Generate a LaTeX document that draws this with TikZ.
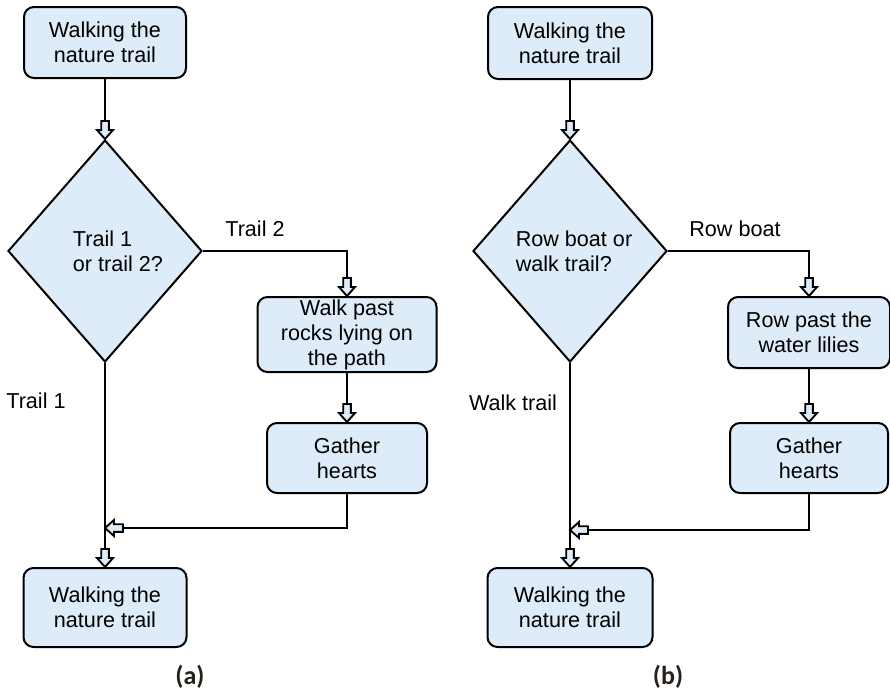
\documentclass[tikz,border=0pt]{standalone}
\usepackage{fontspec}
\setmainfont{Liberation Sans}
\newfontfamily\capfont{Carlito}
\usetikzlibrary{shapes.geometric}
\usetikzlibrary{positioning}
\definecolor{boxfill}{RGB}{222,235,249}
\definecolor{capcol}{RGB}{38,32,26}
% open block arrow with a short shaft
\pgfdeclarearrow{
  name=hollow,
  setup code={
    \pgfarrowssettipend{0pt}
    \pgfarrowssetlineend{-8.5pt}
    \pgfarrowssetvisualbackend{-9pt}
    \pgfarrowssetbackend{-9pt}
    \pgfarrowshullpoint{0pt}{0pt}
    \pgfarrowshullpoint{-9pt}{4pt}
    \pgfarrowshullpoint{-9pt}{-4pt}
  },
  drawing code={
    \pgfsetdash{}{0pt}
    \pgfsetlinewidth{0.95pt}
    \pgfpathmoveto{\pgfqpoint{0pt}{0pt}}
    \pgfpathlineto{\pgfqpoint{-4.5pt}{4pt}}
    \pgfpathlineto{\pgfqpoint{-4.5pt}{1.9pt}}
    \pgfpathlineto{\pgfqpoint{-9pt}{1.9pt}}
    \pgfpathlineto{\pgfqpoint{-9pt}{-1.9pt}}
    \pgfpathlineto{\pgfqpoint{-4.5pt}{-1.9pt}}
    \pgfpathlineto{\pgfqpoint{-4.5pt}{-4pt}}
    \pgfpathclose
    \pgfsetfillcolor{boxfill}
    \pgfusepathqfillstroke
  }
}
\tikzset{
  stepbox/.style={draw, line width=1pt, fill=boxfill, rounded corners=5pt,
    align=center, inner sep=0pt},
  choice/.style={draw, diamond, line width=1pt, fill=boxfill, inner sep=0pt,
    minimum width=97pt, minimum height=111pt},
  flow/.style={line width=1pt, ->, >=hollow},
  caption/.style={font=\capfont\bfseries\fontsize{13}{15}\selectfont, text=capcol},
}

\begin{document}
\begin{tikzpicture}[x=0.5pt, y=-0.5pt, font=\fontsize{10.8}{12.5}\selectfont]
        \useasboundingbox (0,0) rectangle (890,692);
        %Diagram (a)
        \node [stepbox, minimum width=81pt, minimum height=35.5pt] (t1) at (105,42.5) {Walking the\\nature trail};
        \node [choice, label={[name=q1t, align=left, xshift=6.5pt]center:Trail 1\\ or trail 2?}] (q1) at (105,251) {};
        \node [stepbox, minimum width=89.5pt, minimum height=37.5pt] (p1) at (347,334.5) {Walk past\\rocks lying on\\the path};
        \node [stepbox, minimum width=80pt, minimum height=35pt] (g1) at (347,458) {Gather\\hearts};
        \node [stepbox, minimum width=81.5pt, minimum height=39.5pt] (e1) at (105,607.5) {Walking the\\nature trail};
        \coordinate (m1) at (105,528);
        \node (lt2) at (255,229) {Trail 2};
        \node (lt1) at (36,401) {Trail 1};
        \node [caption] (ca) at (190,677) {(a)};
        %Diagram (b)
        \node [stepbox, minimum width=82pt, minimum height=36pt] (t2) at (570,43) {Walking the\\nature trail};
        \node [choice, label={[name=q2t, align=left, xshift=2pt]center:Row boat or\\walk trail?}] (q2) at (570,251) {};
        \node [stepbox, minimum width=81pt, minimum height=35.5pt] (p2) at (809,332.5) {Row past the\\water lilies};
        \node [stepbox, minimum width=79pt, minimum height=35pt] (g2) at (809,458) {Gather\\hearts};
        \node [stepbox, minimum width=82.5pt, minimum height=39.5pt] (e2) at (570,607.5) {Walking the\\nature trail};
        \coordinate (m2) at (570,530);
        \node (lb1) at (735,229) {Row boat};
        \node (lb2) at (513,403) {Walk trail};
        \node [caption] (cb) at (668,677) {(b)};
        %Traits et Fleches
        \draw [flow] (t1) -- (q1);
        \draw [flow] (q1.east) -| (p1.north);
        \draw [flow] (p1) -- (g1);
        \draw [flow] (g1.south) |- (m1);
        \draw [flow] (q1.south) -- (e1.north);
        \draw [flow] (t2) -- (q2);
        \draw [flow] (q2.east) -| (p2.north);
        \draw [flow] (p2) -- (g2);
        \draw [flow] (g2.south) |- (m2);
        \draw [flow] (q2.south) -- (e2.north);
\end{tikzpicture}
\end{document}
